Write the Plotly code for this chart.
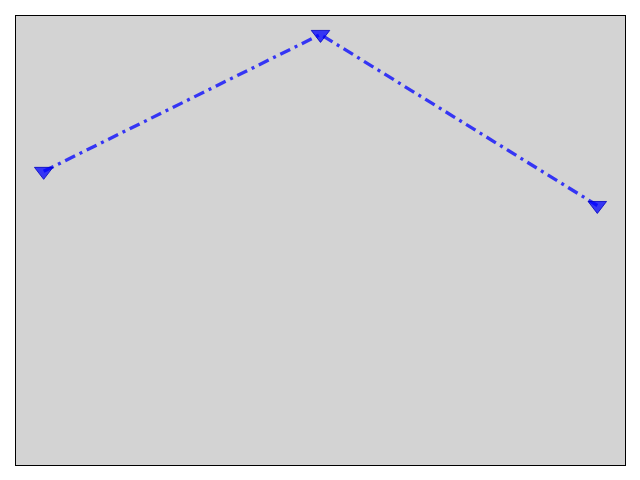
import plotly.graph_objects as go

x_vals = [0, 1, 2]
y_vals = [6.54, 9.59, 5.78]

fig = go.Figure()
fig.add_trace(go.Scatter(
    x=x_vals, y=y_vals, mode="lines+markers",
    line=dict(color="rgba(0,0,255,0.75)", width=3.3, dash="11px,5px,3px,5px"),
    marker=dict(symbol="triangle-down", size=16, color="rgba(0,0,255,0.75)",
                line=dict(color="rgba(0,0,190,0.8)", width=1)),
))
fig.update_layout(
    width=640, height=480,
    margin=dict(l=16, r=15, t=16, b=15),
    paper_bgcolor="white", plot_bgcolor="#d3d3d3",
    showlegend=False,
)
fig.update_xaxes(range=[-0.1, 2.1], showticklabels=False, ticks="", showgrid=False,
                 zeroline=False, showline=True, linecolor="black", linewidth=1, mirror=True)
fig.update_yaxes(range=[0, 10], showticklabels=False, ticks="", showgrid=False,
                 zeroline=False, showline=True, linecolor="black", linewidth=1, mirror=True)
fig.write_html("out.html", config={"displayModeBar": False},
               post_script="document.body.style.margin='0';document.body.style.overflow='hidden';")
